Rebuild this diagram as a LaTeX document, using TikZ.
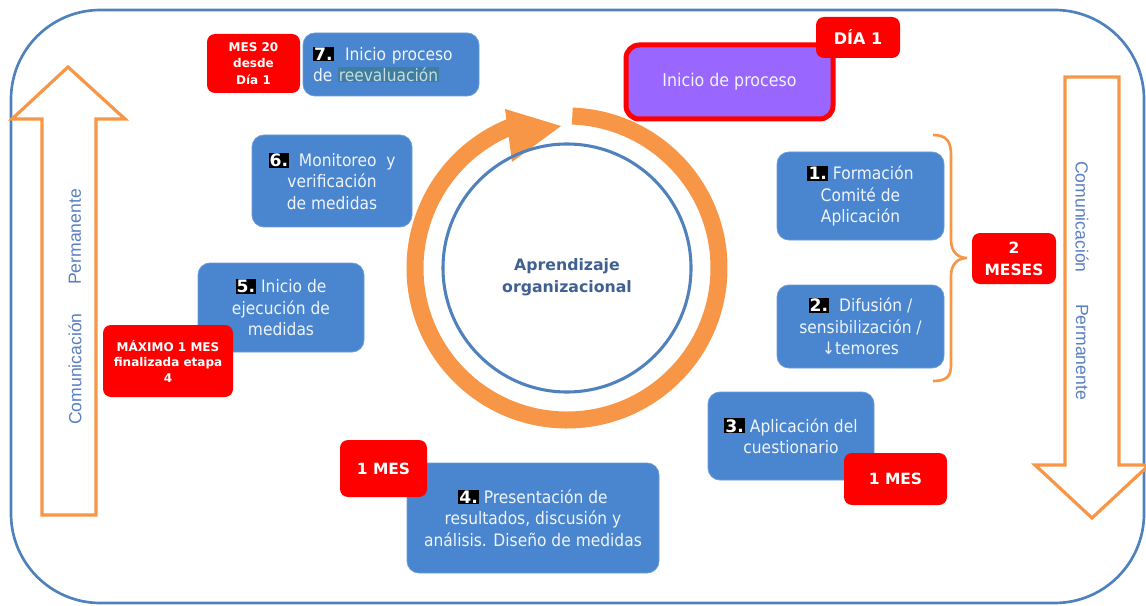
\documentclass[tikz,border=0pt]{standalone}
\usepackage{fontspec}
\setmainfont{DejaVu Sans}[FakeStretch=0.9]
\newfontfamily\widef{DejaVu Sans}
\newfontfamily\arialf{Liberation Sans}
\usetikzlibrary{calc}
\definecolor{boxblue}{HTML}{4A86CF}
\definecolor{boxedge}{HTML}{6A9BD8}
\definecolor{boxtext}{HTML}{F0F4FB}
\definecolor{ringorange}{HTML}{F79646}
\definecolor{outlineblue}{HTML}{4F81BD}
\definecolor{purplefill}{HTML}{9966FF}
\definecolor{centertext}{HTML}{406091}
\definecolor{sidetext}{HTML}{5A7FC2}
\definecolor{hlteal}{HTML}{3F7E9E}
\definecolor{hltext}{HTML}{C4DDE6}
\newcommand{\badge}[1]{{\setlength{\fboxsep}{0.8pt}\colorbox{black}{\textcolor{white}{\widef\bfseries #1}}}}
\begin{document}
\begin{tikzpicture}[x=0.75pt,y=-0.75pt,
  sz/.style 2 args={minimum width=#1*0.75pt, minimum height=#2*0.75pt},
  bluebox/.style={rectangle, rounded corners=9pt, fill=boxblue, draw=boxedge, line width=0.6pt,
    text=boxtext, align=center, inner sep=0pt, font=\fontsize{12.9}{16}\selectfont},
  redbox/.style={rectangle, rounded corners=6pt, fill=red, text=white, align=center, inner sep=0pt,
    font=\widef\bfseries\fontsize{11.6}{16.5}\selectfont},
  sidearrow/.style={draw=ringorange, line width=2.4pt, fill=white, line join=miter},
  sidelabel/.style={text=sidetext, font=\arialf\fontsize{13.2}{14}\selectfont, inner sep=0pt}]
\useasboundingbox (0,0) rectangle (1146,606);

% outer frame
\draw[outlineblue, line width=2pt, rounded corners=67pt] (11,10) rectangle (1144,603);

% side arrows
\draw[sidearrow] (42,515) -- (42,119) -- (12,119) -- (68,67) -- (125,119) -- (96,119) -- (96,515) -- cycle;
\draw[sidearrow] (1065,77) -- (1119,77) -- (1119,465) -- (1149,465) -- (1092,518) -- (1035,465) -- (1065,465) -- cycle;
\node[sidelabel, rotate=90] (cl) at (75,369) {Comunicación};
\node[sidelabel, rotate=90] (pl) at (75,237) {Permanente};
\node[sidelabel, rotate=-90] (cr) at (1082,217) {Comunicación};
\node[sidelabel, rotate=-90] (pr) at (1082,352) {Permanente};

% brace
\draw[ringorange, line width=2pt] (933,135) .. controls (947,135) and (951,142) .. (951,155) -- (951,240)
  .. controls (951,252) and (958,258) .. (967,258) .. controls (958,258) and (951,264) .. (951,276)
  -- (951,365) .. controls (951,376) and (947,381) .. (933,381);

% cycle ring
\coordinate (c) at (567,268);
\draw[ringorange, line width=12.75pt] ($(c)+(5.3,-151.9)$) arc[start angle=88, end angle=-248, radius=114pt];
\fill[ringorange] (505,109) -- (561,126) -- (512,162) -- cycle;
\draw[outlineblue, line width=2.3pt] (c) circle[radius=93pt];
\node[font=\widef\bfseries\fontsize{11.8}{16.5}\selectfont, text=centertext, align=center] (ap) at (567,277) {Aprendizaje\\organizacional};

% blue step boxes
\node[bluebox, sz={176}{63}, text width=156*0.75pt, align=left] (b7) at (391,64.5)
  {\badge{7.}\ \ Inicio proceso\\de {\setlength{\fboxsep}{0.5pt}\colorbox{hlteal}{\textcolor{hltext}{reevaluación}}}};
\node[bluebox, sz={160}{92}] (b6) at (332,181) {\badge{6.}\ \ Monitoreo\ \ y\\verificación\\de medidas};
\node[bluebox, sz={166}{89}] (b5) at (281,307.5) {\badge{5.} Inicio de\\ejecución de\\medidas};
\node[bluebox, sz={252}{110}] (b4) at (533,518) {\badge{4.} Presentación de\\resultados, discusión y\\análisis. Diseño de medidas};
\node[bluebox, sz={166}{88}] (b3) at (791,436) {\badge{3.} Aplicación del\\cuestionario};
\node[bluebox, sz={167}{83}] (b2) at (860.5,326.5) {\badge{2.}\ \ Difusión /\\sensibilización /\\↓temores};
\node[bluebox, sz={167}{88}] (b1) at (860.5,196) {\badge{1.} Formación\\Comité de\\Aplicación};

% start box
\node[rectangle, rounded corners=10pt, fill=purplefill, draw=red, line width=3.75pt, sz={207}{74},
  text=boxtext, font=\fontsize{13.2}{16}\selectfont] (inicio) at (729.5,82) {Inicio de proceso};

% red time labels
\node[redbox, sz={84}{41}, font=\widef\bfseries\fontsize{12}{14}\selectfont] (dia) at (858,37.5) {DÍA 1};
\node[redbox, sz={93}{59}, font=\widef\bfseries\fontsize{9}{12.4}\selectfont] (m20) at (253.5,63.5) {MES 20\\desde\\Día 1};
\node[redbox, sz={84}{51}] (dosmeses) at (1014,258.5) {2\\MESES};
\node[redbox, sz={103}{52}] (unmesr) at (895.5,479) {1 MES};
\node[redbox, sz={87}{57}] (unmesl) at (383.5,468.5) {1 MES};
\node[redbox, sz={130}{72}, font=\widef\bfseries\fontsize{9}{11.6}\selectfont] (maximo) at (168,361) {MÁXIMO 1 MES\\finalizada etapa\\4};
\end{tikzpicture}
\end{document}
